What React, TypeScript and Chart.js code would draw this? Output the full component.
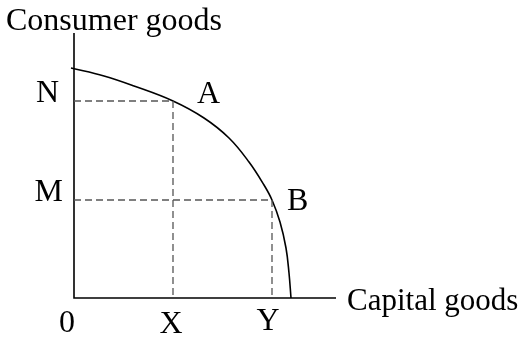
import React, { useEffect, useRef } from "react";
import { Chart, registerables } from "chart.js";

Chart.register(...registerables);

// Production possibility frontier (units: capital goods, consumer goods)
const curveX = [-3, 30, 60, 99, 130, 155, 175, 190, 198, 206, 212, 215, 217];
const curveY = [230, 222, 212, 197, 180, 160, 136, 113, 98, 76, 50, 25, 0];

const pointNames = ["A", "B"];
const pointX = [99, 198];
const pointY = [197, 98];

const yLabels = ["N", "M"];
const yValues = [197, 98];
const xLabels = ["0", "X", "Y"];
const xValues = [0, 99, 198];

const xAxisTitle = "Capital goods";
const yAxisTitle = "Consumer goods";
const xAxisMax = 262;
const yAxisMax = 265;

const FAMILY = '"Liberation Serif", "Times New Roman", serif';

export default function App() {
  const ref = useRef<HTMLCanvasElement | null>(null);

  useEffect(() => {
    if (!ref.current) return;
    const labelPlugin = {
      id: "labels",
      afterDraw(chart: any) {
        const ctx = chart.ctx;
        const xs = chart.scales.x;
        const ys = chart.scales.y;
        ctx.save();
        ctx.font = "32px " + FAMILY;
        ctx.fillStyle = "#000";
        ctx.textBaseline = "alphabetic";
        // y-axis letters
        ctx.textAlign = "right";
        const yxOff = [-15, -11];
        yLabels.forEach((t, i) => {
          ctx.fillText(t, xs.getPixelForValue(0) + yxOff[i], ys.getPixelForValue(yValues[i]) + 1);
        });
        // x-axis letters
        ctx.textAlign = "center";
        const xOff = [-7, -2, -4];
        const yOff = [34, 35, 32];
        xLabels.forEach((t, i) => {
          ctx.fillText(t, xs.getPixelForValue(xValues[i]) + xOff[i], ys.getPixelForValue(0) + yOff[i]);
        });
        // point letters
        ctx.textAlign = "left";
        const pxOff = [24, 15];
        const pyOff = [2, 10];
        pointNames.forEach((t, i) => {
          ctx.fillText(t, xs.getPixelForValue(pointX[i]) + pxOff[i], ys.getPixelForValue(pointY[i]) + pyOff[i]);
        });
        // axis titles
        ctx.textAlign = "left";
        ctx.fillText(yAxisTitle, 6, ys.getPixelForValue(yAxisMax) - 3);
        ctx.font = "31px " + FAMILY;
        ctx.fillText(xAxisTitle, xs.getPixelForValue(xAxisMax) + 11, ys.getPixelForValue(0) + 12);
        ctx.restore();
      },
    };

    const dashStyle = {
      borderColor: "#555555",
      borderWidth: 1.3,
      borderDash: [7, 4],
      pointRadius: 0,
      fill: false,
      tension: 0,
    };

    const chart = new Chart(ref.current, {
      type: "line",
      data: {
        datasets: [
          {
            data: [
              { x: 0, y: pointY[0] },
              { x: pointX[0], y: pointY[0] },
              { x: pointX[0], y: 0 },
            ],
            ...dashStyle,
          },
          {
            data: [
              { x: 0, y: pointY[1] },
              { x: pointX[1], y: pointY[1] },
              { x: pointX[1], y: 0 },
            ],
            ...dashStyle,
          },
          {
            data: [
              { x: 0, y: yAxisMax },
              { x: 0, y: 0 },
              { x: xAxisMax, y: 0 },
            ],
            borderColor: "#000",
            borderWidth: 1.6,
            pointRadius: 0,
            fill: false,
            tension: 0,
          },
          {
            data: curveX.map((x, i) => ({ x, y: curveY[i] })),
            borderColor: "#000",
            borderWidth: 1.6,
            pointRadius: 0,
            fill: false,
            tension: 0.4,
          },
        ] as any,
      },
      options: {
        responsive: false,
        animation: false,
        events: [],
        layout: { padding: 0 },
        plugins: { legend: { display: false }, tooltip: { enabled: false } },
        scales: {
          x: { type: "linear", display: false, min: -74, max: 454 },
          y: { type: "linear", display: false, min: -40, max: 298 },
        },
      },
      plugins: [labelPlugin],
    });
    return () => chart.destroy();
  }, []);

  return (
    <div style={{ position: "fixed", left: 0, top: 0, width: 528, height: 338, background: "#fff" }}>
      <canvas ref={ref} width={528} height={338} style={{ display: "block" }} />
    </div>
  );
}
